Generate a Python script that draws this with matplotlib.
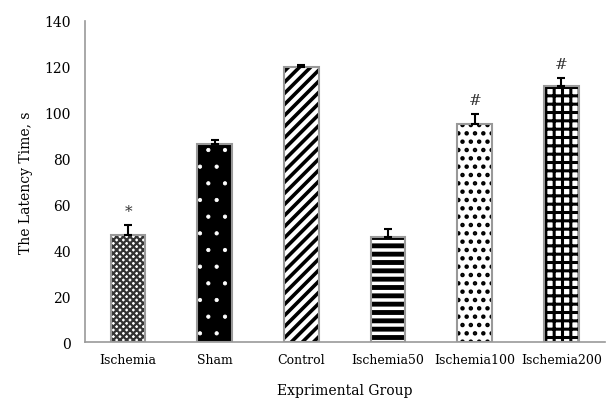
import numpy as np
import matplotlib
matplotlib.use("Agg")
import matplotlib.pyplot as plt

# -------------------------------
# Latency time by experimental group
# -------------------------------

groups = ["Ischemia", "Sham", "Control", "Ischemia50", "Ischemia100", "Ischemia200"]
latency = [46.7, 86.5, 119.7, 46.0, 95.0, 111.8]
sem = [4.2, 1.8, 1.3, 3.2, 4.6, 3.5]
marks = ["*", "", "", "", "#", "#"]

# fill, hatch colour, hatch pattern, hatch width for each bar
faces = ["white", "black", "white", "white", "white", "white"]
hatch_cols = ["#333333", "white", "black", "black", "black", "black"]
hatches = ["xxxxx", ".", "///", "--", "..", "++"]
hatch_lw = [1.6, 0.6, 2.6, 3.5, 2.0, 2.2]

plt.rcParams["font.family"] = ["DejaVu Serif"]

fig = plt.figure(figsize=(6.14, 4.06), dpi=100)
ax = fig.add_axes([0.138, 0.155, 0.847, 0.791])

x = np.arange(len(groups))
for i in range(len(groups)):
    with plt.rc_context({"hatch.linewidth": hatch_lw[i]}):
        ax.bar(x[i], latency[i], width=0.4, color=faces[i], edgecolor=hatch_cols[i],
               hatch=hatches[i], linewidth=0, zorder=2)
    ax.bar(x[i], latency[i], width=0.4, fill=False, edgecolor="#999999",
           linewidth=1.5, zorder=3)

ax.errorbar(x, latency, yerr=[np.zeros(len(sem)), sem], fmt="none",
            ecolor="black", elinewidth=1.5, capsize=3, capthick=1.5, zorder=4)

for i in range(len(groups)):
    if marks[i]:
        ax.text(x[i], latency[i] + sem[i] + 3, marks[i], ha="center", va="bottom",
                fontsize=11, color="#333333")

ax.set_xlim(-0.5, len(groups) - 0.5)
ax.set_ylim(0, 140)
ax.set_yticks(range(0, 141, 20))
ax.set_xticks(x)
ax.set_xticklabels(groups)
ax.tick_params(length=0, labelsize=9, pad=8)
ax.tick_params(axis="y", labelsize=10, pad=10)

for s in ["top", "right"]:
    ax.spines[s].set_visible(False)
for s in ["left", "bottom"]:
    ax.spines[s].set_color("#999999")
    ax.spines[s].set_linewidth(1.2)

ax.set_xlabel("Exprimental Group", fontsize=10, labelpad=12)
ax.set_ylabel("The Latency Time, s", fontsize=10, labelpad=8)

fig.savefig("out.png", dpi=100)
